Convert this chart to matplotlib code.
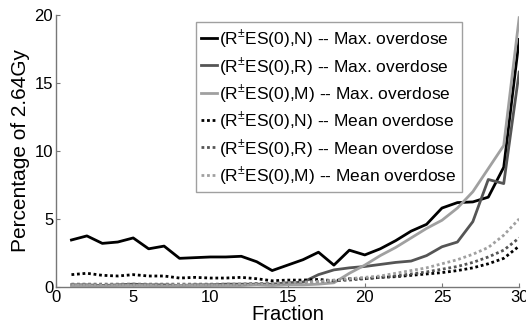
import matplotlib
matplotlib.use("Agg")
import matplotlib.pyplot as plt

plt.rcParams["font.family"] = ["Liberation Sans", "DejaVu Sans"]
plt.rcParams["mathtext.fontset"] = "custom"
plt.rcParams["mathtext.rm"] = "Liberation Sans"

fractions = list(range(1, 31))

n_max = [3.45, 3.75, 3.2, 3.3, 3.6, 2.8, 3.0, 2.1, 2.15, 2.2,
         2.2, 2.25, 1.85, 1.2, 1.6, 2.0, 2.55, 1.6, 2.7, 2.35,
         2.8, 3.4, 4.1, 4.6, 5.8, 6.2, 6.25, 6.6, 8.8, 18.2]
r_max = [0.15, 0.15, 0.1, 0.15, 0.2, 0.15, 0.15, 0.1, 0.15, 0.15,
         0.2, 0.2, 0.2, 0.2, 0.3, 0.35, 0.9, 1.25, 1.4, 1.5,
         1.65, 1.8, 1.9, 2.3, 2.95, 3.3, 4.8, 7.9, 7.6, 15.8]
m_max = [0.1, 0.1, 0.05, 0.1, 0.1, 0.1, 0.05, 0.1, 0.1, 0.1,
         0.1, 0.1, 0.15, 0.1, 0.15, 0.15, 0.2, 0.3, 1.0, 1.6,
         2.3, 2.9, 3.6, 4.3, 4.9, 5.8, 7.0, 8.7, 10.4, 19.8]
n_mean = [0.9, 1.0, 0.85, 0.8, 0.9, 0.8, 0.8, 0.65, 0.7, 0.65,
          0.65, 0.7, 0.6, 0.45, 0.5, 0.5, 0.55, 0.45, 0.6, 0.6,
          0.7, 0.75, 0.85, 0.95, 1.05, 1.2, 1.4, 1.7, 2.1, 3.0]
r_mean = [0.2, 0.2, 0.2, 0.2, 0.2, 0.2, 0.2, 0.2, 0.2, 0.2,
          0.2, 0.2, 0.25, 0.25, 0.3, 0.35, 0.4, 0.45, 0.5, 0.6,
          0.7, 0.8, 0.95, 1.1, 1.3, 1.5, 1.8, 2.2, 2.7, 3.6]
m_mean = [0.15, 0.15, 0.15, 0.15, 0.15, 0.15, 0.15, 0.15, 0.15, 0.15,
          0.15, 0.2, 0.2, 0.25, 0.3, 0.35, 0.4, 0.5, 0.6, 0.7,
          0.8, 1.0, 1.2, 1.4, 1.7, 2.0, 2.4, 2.9, 3.8, 5.0]

labels = [
    r"(R$^{\pm}$ES(0),N) -- Max. overdose",
    r"(R$^{\pm}$ES(0),R) -- Max. overdose",
    r"(R$^{\pm}$ES(0),M) -- Max. overdose",
    r"(R$^{\pm}$ES(0),N) -- Mean overdose",
    r"(R$^{\pm}$ES(0),R) -- Mean overdose",
    r"(R$^{\pm}$ES(0),M) -- Mean overdose",
]
series = [n_max, r_max, m_max, n_mean, r_mean, m_mean]
colors = ["#000000", "#555555", "#a0a0a0", "#000000", "#555555", "#a0a0a0"]
styles = ["-", "-", "-", (0, (1, 1)), (0, (1, 1)), (0, (1, 1))]

fig = plt.figure(figsize=(5.26, 3.26), dpi=100)
ax = fig.add_axes([0.1065, 0.12, 0.8805, 0.834])

for vals, c, ls, lab in zip(series, colors, styles, labels):
    ax.plot(fractions, vals, color=c, linestyle=ls, linewidth=2.0, label=lab)

ax.set_xlim(0, 30)
ax.set_ylim(0, 20)
ax.set_xticks([0, 5, 10, 15, 20, 25, 30])
ax.set_yticks([0, 5, 10, 15, 20])
ax.tick_params(direction="in", length=3, labelsize=12, color="#777777", pad=2)
for side in ["top", "right"]:
    ax.spines[side].set_visible(False)
for side in ["left", "bottom"]:
    ax.spines[side].set_color("#777777")
    ax.spines[side].set_linewidth(1.0)

ax.set_xlabel("Fraction", fontsize=14.5, labelpad=0)
ax.set_ylabel("Percentage of 2.64Gy", fontsize=15, labelpad=3)

leg = ax.legend(loc="upper left", bbox_to_anchor=(196 / 526, 1 - 22 / 326),
                bbox_transform=fig.transFigure, fontsize=12.5, frameon=True,
                fancybox=False, handlelength=0.9, handletextpad=0.15,
                labelspacing=0.25, borderpad=0.3, borderaxespad=0)
leg.get_frame().set_edgecolor("#888888")
leg.get_frame().set_linewidth(1.0)

fig.savefig("out.png", dpi=100)
